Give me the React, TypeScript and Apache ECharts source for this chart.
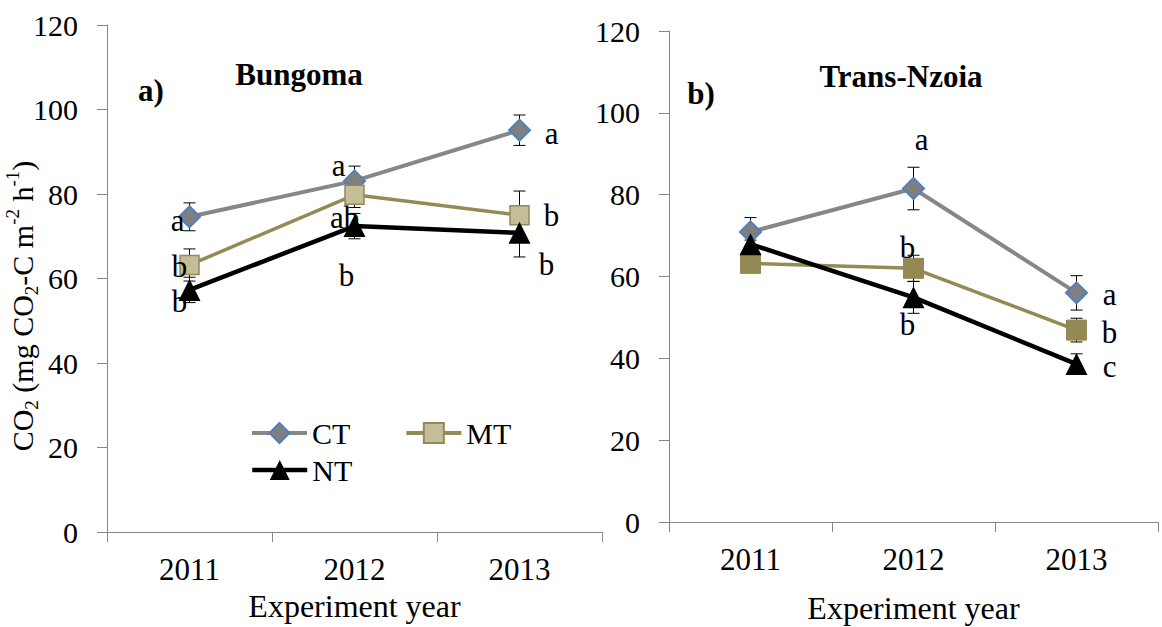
import { useEffect, useRef } from "react";
import * as echarts from "echarts";

const FONT = "Liberation Serif";

// Experiment years (shared category axis)
const years = ["2011", "2012", "2013"];

// Bungoma — CO2 flux means and standard errors
const bungomaCT = [74.6, 83.1, 95.1];
const bungomaCTErr = [3.3, 3.5, 3.6];
const bungomaMT = [63.2, 79.8, 75.0];
const bungomaMTErr = [3.8, 3.0, 5.7];
const bungomaNT = [57.3, 72.4, 70.8];
const bungomaNTErr = [3.0, 3.0, 5.7];
const bungomaCTLetters = ["a", "a", "a"];
const bungomaMTLetters = ["b", "ab", "b"];
const bungomaNTLetters = ["b", "b", "b"];

// Trans-Nzoia — CO2 flux means and standard errors
const transCT = [70.9, 81.5, 56.0];
const transCTErr = [3.5, 5.2, 4.2];
const transMT = [63.2, 62.0, 46.9];
const transMTErr = [1.0, 3.2, 2.9];
const transNT = [67.9, 54.9, 38.6];
const transNTErr = [1.0, 3.9, 2.5];
const transCTLetters = ["", "a", "a"];
const transMTLetters = ["", "b", "b"];
const transNTLetters = ["", "b", "c"];

const yMin = 0;
const yMax = 120;
const yStep = 20;

// Pixel offsets of the significance letters from their markers
const bungomaCTOffsets = [[-12, 4], [-16, -15], [32, 3]];
const bungomaMTOffsets = [[-10, 2], [-10, 23], [32, 0]];
const bungomaNTOffsets = [[-10, 12], [-8, 49], [27, 32]];
const transCTOffsets = [[0, 0], [8, -49], [33, 2]];
const transMTOffsets = [[0, 0], [-6, -21], [33, 2]];
const transNTOffsets = [[0, 0], [-6, 27], [33, 2]];

const CT_STYLE = {
  symbol: "diamond",
  symbolSize: 21,
  lineStyle: { color: "#878787", width: 4 },
  itemStyle: { color: "#7f7f7f", borderColor: "#4f81bd", borderWidth: 2 },
};
const MT_STYLE_LIGHT = {
  symbol: "rect",
  symbolSize: 19,
  lineStyle: { color: "#948a54", width: 3.5 },
  itemStyle: { color: "#c4bd97", borderColor: "#948a54", borderWidth: 1.5 },
};
const MT_STYLE_DARK = {
  symbol: "rect",
  symbolSize: 20,
  lineStyle: { color: "#948a54", width: 3.5 },
  itemStyle: { color: "#938953", borderColor: "#938953", borderWidth: 1 },
};
const NT_STYLE = {
  symbol: "triangle",
  symbolSize: 22,
  lineStyle: { color: "#000000", width: 4.5 },
  itemStyle: { color: "#000000" },
};

function lineSeries(
  name: string,
  values: number[],
  letters: string[],
  offsets: number[][],
  axis: number,
  style: any,
  z: number
) {
  return {
    name,
    type: "line",
    xAxisIndex: axis,
    yAxisIndex: axis,
    z,
    ...style,
    label: {
      fontFamily: FONT,
      fontSize: 31,
      color: "#000",
      textBorderWidth: 0,
    },
    data: values.map((v, i) =>
      letters[i]
        ? {
            value: v,
            label: {
              show: true,
              formatter: letters[i],
              position: "inside",
              offset: offsets[i],
              color: "#000",
              fontFamily: FONT,
              fontSize: 31,
            },
          }
        : { value: v }
    ),
  };
}

function errorSeries(values: number[], errs: number[], axis: number) {
  return {
    type: "custom",
    xAxisIndex: axis,
    yAxisIndex: axis,
    z: 1,
    silent: true,
    data: values.map((v, i) => [i, v - errs[i], v + errs[i]]),
    renderItem: (_params: any, api: any) => {
      const lo = api.coord([api.value(0), api.value(1)]);
      const hi = api.coord([api.value(0), api.value(2)]);
      const half = 6;
      const style = { stroke: "#000", lineWidth: 1 };
      return {
        type: "group",
        children: [
          { type: "line", shape: { x1: lo[0], y1: lo[1], x2: hi[0], y2: hi[1] }, style },
          { type: "line", shape: { x1: lo[0] - half, y1: lo[1], x2: lo[0] + half, y2: lo[1] }, style },
          { type: "line", shape: { x1: hi[0] - half, y1: hi[1], x2: hi[0] + half, y2: hi[1] }, style },
        ],
      };
    },
  };
}

const axisLine = { show: true, lineStyle: { color: "#868686", width: 1 } };
const axisTick = { show: true, length: 10, lineStyle: { color: "#868686", width: 1 } };

function xAxis(grid: number, nameGap: number) {
  return {
    type: "category",
    gridIndex: grid,
    data: years,
    boundaryGap: true,
    axisLine,
    axisTick,
    axisLabel: { fontFamily: FONT, fontSize: 31, color: "#000", margin: 22 },
    name: "Experiment year",
    nameLocation: "middle",
    nameGap,
    nameTextStyle: { fontFamily: FONT, fontSize: 32, color: "#000" },
    splitLine: { show: false },
  };
}

function yAxis(grid: number) {
  return {
    type: "value",
    gridIndex: grid,
    min: yMin,
    max: yMax,
    interval: yStep,
    axisLine,
    axisTick,
    axisLabel: { fontFamily: FONT, fontSize: 30, color: "#000", margin: 29 },
    splitLine: { show: false },
  };
}

export default function App() {
  const ref = useRef<HTMLDivElement>(null);

  useEffect(() => {
    if (!ref.current) return;
    const chart = echarts.init(ref.current, undefined, { renderer: "svg" });
    const legendText = { fontFamily: FONT, fontSize: 30, color: "#000" };
    const boldTitle = (text: string, x: number, y: number) => ({
      type: "text",
      x,
      y,
      style: {
        text,
        fontFamily: FONT,
        fontSize: 31,
        fontWeight: "bold",
        fill: "#000",
        align: "center",
        verticalAlign: "middle",
      },
    });

    chart.setOption({
      animation: false,
      backgroundColor: "#ffffff",
      textStyle: { fontFamily: FONT },
      grid: [
        { left: 107, top: 25, width: 495, height: 507, outerBoundsMode: "none" },
        { left: 669, top: 31, width: 489, height: 491, outerBoundsMode: "none" },
      ],
      xAxis: [xAxis(0, 58), xAxis(1, 70)],
      yAxis: [yAxis(0), yAxis(1)],
      legend: [
        {
          data: ["CT", "MT"],
          left: 250,
          top: 418,
          padding: 0,
          itemWidth: 55,
          itemHeight: 25,
          itemGap: 54,
          selectedMode: false,
          lineStyle: { width: 4 },
          textStyle: legendText,
        },
        {
          data: ["NT"],
          left: 250,
          top: 455,
          padding: 0,
          itemWidth: 55,
          itemHeight: 25,
          selectedMode: false,
          lineStyle: { width: 4.5 },
          textStyle: legendText,
        },
      ],
      graphic: [
        {
          type: "text",
          x: 22,
          y: 306,
          rotation: Math.PI / 2,
          style: {
            text: "{n|CO}{s|2}{n| (mg CO}{s|2}{n|-C m}{p|-2}{n| h}{p|-1}{n|)}",
            align: "center",
            verticalAlign: "middle",
            fill: "#000",
            rich: {
              n: { fontFamily: FONT, fontSize: 30, lineHeight: 38, verticalAlign: "middle" },
              s: { fontFamily: FONT, fontSize: 19, lineHeight: 19, verticalAlign: "bottom" },
              p: { fontFamily: FONT, fontSize: 19, lineHeight: 19, verticalAlign: "top" },
            },
          },
        },
        boldTitle("a)", 151, 90),
        boldTitle("Bungoma", 299, 74),
        boldTitle("b)", 701, 93),
        boldTitle("Trans-Nzoia", 901, 76),
      ],
      series: [
        errorSeries(bungomaCT, bungomaCTErr, 0),
        errorSeries(bungomaMT, bungomaMTErr, 0),
        errorSeries(bungomaNT, bungomaNTErr, 0),
        errorSeries(transCT, transCTErr, 1),
        errorSeries(transMT, transMTErr, 1),
        errorSeries(transNT, transNTErr, 1),
        lineSeries("CT", bungomaCT, bungomaCTLetters, bungomaCTOffsets, 0, CT_STYLE, 3),
        lineSeries("MT", bungomaMT, bungomaMTLetters, bungomaMTOffsets, 0, MT_STYLE_LIGHT, 4),
        lineSeries("NT", bungomaNT, bungomaNTLetters, bungomaNTOffsets, 0, NT_STYLE, 5),
        lineSeries("CT", transCT, transCTLetters, transCTOffsets, 1, CT_STYLE, 3),
        lineSeries("MT", transMT, transMTLetters, transMTOffsets, 1, MT_STYLE_DARK, 4),
        lineSeries("NT", transNT, transNTLetters, transNTOffsets, 1, NT_STYLE, 5),
      ],
    });

    return () => chart.dispose();
  }, []);

  return (
    <div
      ref={ref}
      style={{ position: "fixed", left: 0, top: 0, width: 1162, height: 627, background: "#fff" }}
    />
  );
}
